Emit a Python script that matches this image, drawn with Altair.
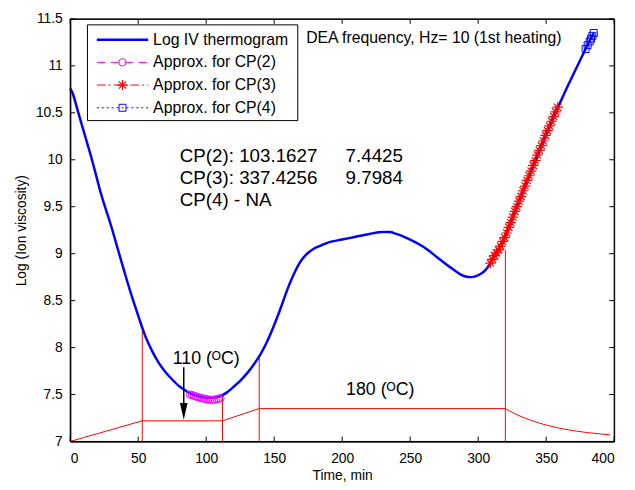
import altair as alt
import pandas as pd

# ---------------- data ----------------
iv_time = [0, 2, 5, 10, 16, 23, 30, 35, 40, 45, 50, 55, 60, 65, 70, 75, 80, 85, 90, 95,
           100, 105, 110, 115, 120, 125, 130, 135, 140, 145, 150, 155, 160, 165, 170, 175,
           180, 185, 190, 200, 210, 220, 230, 235, 240, 250, 260, 270, 280, 290, 295, 300, 305,
           310, 315, 320, 325, 330, 335, 340, 345, 350, 355, 360, 365, 370, 375, 380, 385]
iv_log = [10.76, 10.70, 10.55, 10.30, 10.00, 9.62, 9.30, 9.05, 8.80, 8.56, 8.34, 8.13, 7.97,
          7.84, 7.74, 7.66, 7.59, 7.54, 7.50, 7.48, 7.465, 7.465, 7.48, 7.52, 7.58, 7.645,
          7.725, 7.82, 7.93, 8.07, 8.24, 8.43, 8.63, 8.80, 8.93, 9.01, 9.06, 9.09, 9.12, 9.15,
          9.18, 9.21, 9.23, 9.23, 9.21, 9.15, 9.07, 8.96, 8.85, 8.76, 8.75, 8.77, 8.82, 8.92,
          9.04, 9.19, 9.37, 9.56, 9.74, 9.92, 10.10, 10.27, 10.44, 10.60, 10.76, 10.91, 11.06,
          11.21, 11.35]

cp2_time = [88, 89.5, 91, 92.5, 94, 95.5, 97, 98.5, 100, 101.5, 103, 104.5, 106, 107.5, 109, 110.5]
cp2_log = [7.50, 7.495, 7.485, 7.48, 7.47, 7.465, 7.46, 7.455, 7.45, 7.447, 7.445, 7.443, 7.445,
           7.45, 7.455, 7.46]

cp3_time = [309, 310.5, 312, 313.5, 315, 316.5, 318, 319.5, 321, 322.5, 324, 325.5, 327, 328.5,
            330, 331.5, 333, 334.5, 336, 337.5, 339, 340.5, 342, 343.5, 345, 346.5, 348, 349.5,
            351, 352.5, 354, 355.5, 357, 358.5]
cp3_log = [8.90, 8.94, 8.98, 9.01, 9.04, 9.08, 9.13, 9.17, 9.22, 9.28, 9.33, 9.39, 9.45, 9.50,
           9.56, 9.61, 9.67, 9.72, 9.78, 9.83, 9.88, 9.94, 9.99, 10.05, 10.10, 10.15, 10.20,
           10.26, 10.31, 10.36, 10.41, 10.46, 10.51, 10.56]

cp4_time = [379, 380.5, 382, 383, 384, 385]
cp4_log = [11.18, 11.22, 11.26, 11.29, 11.32, 11.35]

temp_time = [0, 53, 112, 139, 320, 325, 330, 335, 340, 345, 350, 360, 370, 380, 390, 397]
temp_level = [7.0, 7.22, 7.22, 7.35, 7.35, 7.31, 7.275, 7.245, 7.22, 7.195, 7.175, 7.14,
              7.115, 7.095, 7.08, 7.07]

stage_time = [53, 112, 139, 320]
stage_top = [8.18, 7.48, 7.90, 9.04]
stage_bottom = [7.0, 7.0, 7.0, 7.0]

x_ticks = [0, 50, 100, 150, 200, 250, 300, 350, 400]
y_ticks = [7, 7.5, 8, 8.5, 9, 9.5, 10, 10.5, 11, 11.5]

legend_labels = ["Log IV thermogram", "Approx. for CP(2)", "Approx. for CP(3)", "Approx. for CP(4)"]
cp_labels = ["CP(2): 103.1627", "CP(3): 337.4256", "CP(4) - NA"]
cp_values = ["7.4425", "9.7984"]
header_text = "DEA frequency, Hz= 10 (1st heating)"
temp1_text = "110 (\u1d3cC)"
temp2_text = "180 (\u1d3cC)"

# ---------------- layout / style ----------------
W, H = 551, 428
FONT = "Liberation Sans"
BLUE = "#0000ff"
RED = "#ff0000"
MAG = "#ff00ff"

xs = alt.Scale(domain=[0, 400], nice=False, zero=False)
ys = alt.Scale(domain=[7, 11.5], nice=False, zero=False)

AX_X = alt.Axis(values=x_ticks, ticks=False, grid=False, title="Time, min",
                labelPadding=10, titlePadding=4, labelFontSize=14, titleFontSize=14,
                labelFont=FONT, titleFont=FONT, titleFontWeight="normal",
                labelColor="black", titleColor="black", domainColor="black")
AX_Y = alt.Axis(values=y_ticks, ticks=False, grid=False, format="~g",
                title="Log (Ion viscosity)", labelPadding=8, titlePadding=7,
                labelFontSize=14, titleFontSize=14, labelFont=FONT, titleFont=FONT,
                titleFontWeight="normal", labelColor="black", titleColor="black",
                domainColor="black")

def X(f="t"):
    return alt.X(f"{f}:Q", scale=xs, axis=AX_X)

def Y(f="v"):
    return alt.Y(f"{f}:Q", scale=ys, axis=AX_Y)

iv_df = pd.DataFrame({"t": iv_time, "v": iv_log})
cp2_df = pd.DataFrame({"t": cp2_time, "v": cp2_log})
cp3_df = pd.DataFrame({"t": cp3_time, "v": cp3_log})
cp4_df = pd.DataFrame({"t": cp4_time, "v": cp4_log})
temp_df = pd.DataFrame({"t": temp_time, "v": temp_level})
stage_df = pd.DataFrame({"t": stage_time, "v": stage_bottom, "v2": stage_top})

layers = []

# temperature profile and stage markers
layers.append(alt.Chart(temp_df).mark_line(color=RED, strokeWidth=1).encode(x=X(), y=Y()))
layers.append(alt.Chart(stage_df).mark_rule(color=RED, strokeWidth=1).encode(
    x=X(), y=Y(), y2="v2:Q"))

# main thermogram
layers.append(alt.Chart(iv_df).mark_line(color=BLUE, strokeWidth=2.5, interpolate="monotone").encode(
    x=X(), y=Y()))

star_path = "M-1,0L1,0M0,-1L0,1M-0.7,-0.7L0.7,0.7M-0.7,0.7L0.7,-0.7"

layers.append(alt.Chart(cp2_df).mark_point(shape="circle", filled=False, color=MAG, size=55,
                                           strokeWidth=1, opacity=1).encode(x=X(), y=Y()))
layers.append(alt.Chart(cp3_df).mark_point(shape=star_path, filled=False, color=RED, size=110,
                                           strokeWidth=1.2, opacity=1).encode(x=X(), y=Y()))
layers.append(alt.Chart(cp4_df).mark_point(shape="square", filled=False, color=BLUE, size=50,
                                           strokeWidth=1, opacity=1).encode(x=X(), y=Y()))

# annotations
cp_df = pd.DataFrame({"t": [80.6] * 3, "v": [10.04, 9.80, 9.57], "txt": cp_labels})
cpv_df = pd.DataFrame({"t": [202.5] * 2, "v": [10.04, 9.80], "txt": cp_values})
layers.append(alt.Chart(cp_df).mark_text(align="left", baseline="middle", fontSize=19,
                                         font=FONT, color="black").encode(x=X(), y=Y(), text="txt:N"))
layers.append(alt.Chart(cpv_df).mark_text(align="left", baseline="middle", fontSize=19,
                                          font=FONT, color="black").encode(x=X(), y=Y(), text="txt:N"))
hdr_df = pd.DataFrame({"t": [173.5], "v": [11.3], "txt": [header_text]})
layers.append(alt.Chart(hdr_df).mark_text(align="left", baseline="middle", fontSize=16,
                                          font=FONT, color="black").encode(x=X(), y=Y(), text="txt:N"))
tmp_df = pd.DataFrame({"t": [100, 228], "v": [7.88, 7.55], "txt": [temp1_text, temp2_text]})
layers.append(alt.Chart(tmp_df).mark_text(align="center", baseline="middle", fontSize=18,
                                          font=FONT, color="black").encode(x=X(), y=Y(), text="txt:N"))

# arrow
arrow_df = pd.DataFrame({"t": [83.5], "v": [7.79], "v2": [7.33]})
layers.append(alt.Chart(arrow_df).mark_rule(color="black", strokeWidth=1.5).encode(
    x=X(), y=Y(), y2="v2:Q"))
head_df = pd.DataFrame({"t": [83.5], "v": [7.32]})
layers.append(alt.Chart(head_df).mark_point(shape="M-0.45,-1L0.45,-1L0,1Z", filled=True,
                                            color="black", size=289, opacity=1).encode(x=X(), y=Y()))

# inward ticks (box style)
xt_df = pd.DataFrame({"t": x_ticks})
yt_df = pd.DataFrame({"v": y_ticks})
layers.append(alt.Chart(xt_df).mark_rule(color="black", strokeWidth=1).encode(
    x=X(), y=alt.value(H), y2=alt.value(H - 5)))
layers.append(alt.Chart(xt_df).mark_rule(color="black", strokeWidth=1).encode(
    x=X(), y=alt.value(0), y2=alt.value(5)))
layers.append(alt.Chart(yt_df).mark_rule(color="black", strokeWidth=1).encode(
    y=Y(), x=alt.value(0), x2=alt.value(5)))
layers.append(alt.Chart(yt_df).mark_rule(color="black", strokeWidth=1).encode(
    y=Y(), x=alt.value(W), x2=alt.value(W - 5)))

one = pd.DataFrame({"a": [0]})

# plot frame
layers.append(alt.Chart(one).mark_rect(fill=None, filled=False, stroke="black", strokeWidth=1).encode(
    x=alt.value(0), x2=alt.value(W), y=alt.value(0), y2=alt.value(H)))

# legend box
layers.append(alt.Chart(one).mark_rect(fill="white", stroke="black", strokeWidth=1).encode(
    x=alt.value(17.5), x2=alt.value(230.5), y=alt.value(6), y2=alt.value(103)))

row_y = [21, 44, 67, 90]
line_styles = [
    dict(color=BLUE, strokeWidth=2.5),
    dict(color=MAG, strokeWidth=1, strokeDash=[9, 5]),
    dict(color=RED, strokeWidth=1, strokeDash=[9, 3, 2, 3]),
    dict(color=BLUE, strokeWidth=1, strokeDash=[2, 3]),
]
for ry, st in zip(row_y, line_styles):
    layers.append(alt.Chart(one).mark_rule(**st).encode(
        x=alt.value(27), x2=alt.value(79), y=alt.value(ry)))

layers.append(alt.Chart(one).mark_point(shape="circle", filled=False, color=MAG, size=55,
                                        strokeWidth=1, opacity=1).encode(x=alt.value(53), y=alt.value(row_y[1])))
layers.append(alt.Chart(one).mark_point(shape=star_path, filled=False, color=RED, size=110,
                                        strokeWidth=1.2, opacity=1).encode(x=alt.value(53), y=alt.value(row_y[2])))
layers.append(alt.Chart(one).mark_point(shape="square", filled=False, color=BLUE, size=50,
                                        strokeWidth=1, opacity=1).encode(x=alt.value(53), y=alt.value(row_y[3])))

for ry, lab in zip(row_y, legend_labels):
    ldf = pd.DataFrame({"txt": [lab]})
    layers.append(alt.Chart(ldf).mark_text(align="left", baseline="middle", fontSize=16,
                                           font=FONT, color="black").encode(
        x=alt.value(84), y=alt.value(ry), text="txt:N"))

chart = alt.layer(*layers).properties(
    width=W, height=H,
    background="white",
    autosize=alt.AutoSizeParams(type="none"),
    padding={"left": 63, "top": 8, "right": 13, "bottom": 38},
).configure_view(stroke="black", strokeWidth=1)

chart.save("out.html", embed_options={"renderer": "svg", "actions": False})
